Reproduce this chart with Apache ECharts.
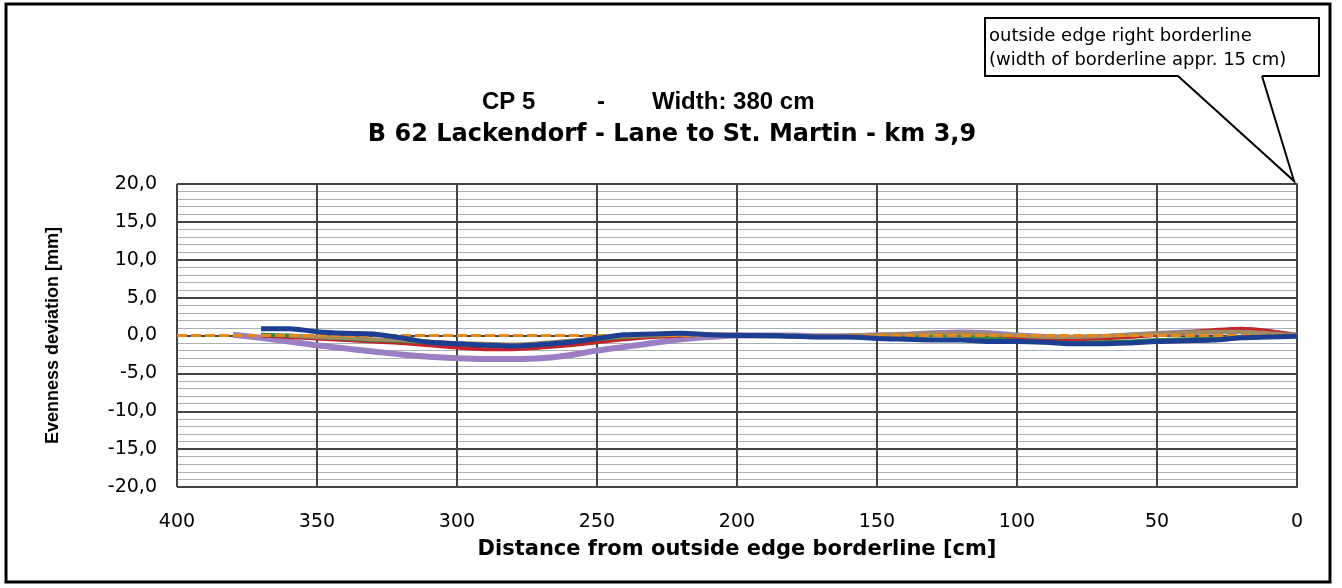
<!DOCTYPE html>
<html>
<head>
<meta charset="utf-8">
<script src="https://cdn.jsdelivr.net/npm/echarts@6/dist/echarts.min.js"></script>
<style>
  html, body { margin: 0; padding: 0; background: #fff; }
  #main { width: 1342px; height: 588px; }
</style>
</head>
<body>
<div id="main"></div>
<script>
// distance from outside edge borderline [cm], one sample every 10 cm
var distances = [380, 370, 360, 350, 340, 330, 320, 310, 300, 290, 280, 270, 260,
    250, 240, 230, 220, 210, 200, 190, 180, 170, 160, 150, 140, 130, 120, 110,
    100, 90, 80, 70, 60, 50, 40, 30, 20, 10, 0];

// evenness deviation [mm]
var purpleValues = [0.1, -0.3, -0.8, -1.3, -1.7, -2.1, -2.5, -2.8, -3.0, -3.1, -3.1, -3.0, -2.6,
    -2.0, -1.5, -1.0, -0.5, -0.2, 0.0, 0.0, 0.0, -0.1, -0.1, 0.0, 0.1, 0.3, 0.4, 0.3,
    0.0, -0.2, -0.3, -0.2, 0.0, 0.2, 0.4, 0.5, 0.6, 0.4, 0.0];
var redValues = [null, 0.0, -0.2, -0.4, -0.6, -0.8, -1.0, -1.3, -1.6, -1.8, -1.8, -1.6, -1.3,
    -0.9, -0.5, -0.2, 0.0, 0.1, 0.1, 0.0, -0.1, -0.1, -0.1, 0.0, 0.1, 0.2, 0.2, 0.0,
    -0.3, -0.5, -0.5, -0.4, -0.2, 0.1, 0.4, 0.7, 0.9, 0.6, 0.0];
var greenValues = [null, 0.1, 0.0, -0.2, -0.4, -0.6, -0.7, -0.9, -1.1, -1.2, -1.3, -1.1, -0.8,
    -0.5, -0.2, 0.0, 0.1, 0.1, 0.0, -0.1, -0.1, -0.2, -0.2, -0.2, -0.1, 0.0, 0.0, -0.3,
    -0.7, -0.9, -1.0, -0.9, -0.8, -0.6, -0.5, -0.4, -0.2, 0.0, 0.0];
var oliveValues = [null, null, 0.0, -0.2, -0.3, -0.5, -0.6, -0.8, -1.0, -1.1, -1.2, -1.0, -0.7,
    -0.4, -0.1, 0.0, 0.1, 0.1, 0.1, 0.0, 0.0, -0.1, 0.0, 0.1, 0.2, 0.3, 0.3, 0.2,
    0.0, -0.2, -0.2, -0.1, 0.1, 0.3, 0.4, 0.5, 0.5, 0.3, 0.0];
var blueValues = [null, 0.9, 0.9, 0.5, 0.3, 0.2, -0.3, -0.9, -1.1, -1.3, -1.4, -1.2, -0.9,
    -0.4, 0.1, 0.2, 0.3, 0.1, 0.0, 0.0, -0.1, -0.2, -0.2, -0.4, -0.5, -0.6, -0.6, -0.8,
    -0.8, -0.9, -1.1, -1.1, -1.0, -0.8, -0.7, -0.6, -0.3, -0.2, -0.1];
// reference line
var refDistances = [400, 0];
var refValues = [0, 0];

var WIDE = 'DejaVu Sans';
var ARIAL = 'Liberation Sans';

function toPairs(xs, ys) {
    var out = [];
    for (var i = 0; i < xs.length; i++) {
        if (ys[i] === null) continue;
        out.push([xs[i], ys[i]]);
    }
    return out;
}

function profile(name, color, width, values, z) {
    return {
        name: name,
        type: 'line',
        data: toPairs(distances, values),
        showSymbol: false,
        smooth: 0.3,
        z: z,
        lineStyle: { color: color, width: width },
        silent: true
    };
}

function titleText(str, x, y, family, size, align) {
    return {
        type: 'text', z: 100, x: x, y: y,
        style: {
            text: str, fontFamily: family, fontWeight: 'bold', fontSize: size,
            fill: '#000', textAlign: align
        }
    };
}

var chartDom = document.getElementById('main');
var myChart = echarts.init(chartDom);
var option;

option = {
    animation: false,
    backgroundColor: '#fff',
    grid: { left: 177, right: 45, top: 184, bottom: 101 },
    xAxis: {
        type: 'value',
        inverse: true,
        min: 0,
        max: 400,
        interval: 50,
        name: 'Distance from outside edge borderline [cm]',
        nameLocation: 'middle',
        nameGap: 52,
        nameTextStyle: { fontFamily: WIDE, fontWeight: 'bold', fontSize: 21, color: '#000' },
        axisLine: { show: true, lineStyle: { color: '#444', width: 2 } },
        axisTick: { show: true, length: 5, lineStyle: { color: '#444', width: 2 } },
        axisLabel: { fontFamily: WIDE, fontSize: 19, color: '#000', margin: 26 },
        splitLine: { show: true, lineStyle: { color: '#444', width: 2 } }
    },
    yAxis: {
        type: 'value',
        min: -20,
        max: 20,
        interval: 5,
        name: 'Evenness deviation [mm]',
        nameLocation: 'middle',
        nameGap: 115,
        nameTextStyle: { fontFamily: ARIAL, fontWeight: 'bold', fontSize: 18, color: '#000' },
        axisLine: { show: true, lineStyle: { color: '#444', width: 2 } },
        axisTick: { show: true, length: 5, lineStyle: { color: '#444', width: 2 } },
        axisLabel: {
            fontFamily: WIDE, fontSize: 19, color: '#000', margin: 20,
            formatter: function (v) { return v.toFixed(1).replace('.', ','); }
        },
        splitLine: { show: true, lineStyle: { color: '#444', width: 2 } },
        minorTick: { show: false, splitNumber: 5 },
        minorSplitLine: { show: true, lineStyle: { color: '#aab0b4', width: 1 } }
    },
    series: [
        profile('purple', '#9a80c2', 6, purpleValues, 2),
        profile('red', '#c4232b', 4, redValues, 3),
        profile('green', '#2f8a3e', 4, greenValues, 4),
        profile('olive', '#a08a62', 4, oliveValues, 5),
        {
            name: 'reference',
            type: 'line',
            data: toPairs(refDistances, refValues),
            showSymbol: false,
            z: 6,
            silent: true,
            lineStyle: { color: '#e88a1a', width: 3, type: [10, 4] }
        },
        profile('blue', '#1d3f91', 5, blueValues, 7)
    ],
    graphic: [
        // outer frame
        {
            type: 'rect', z: 100, silent: true,
            shape: { x: 6, y: 4, width: 1324, height: 578 },
            style: { fill: 'none', stroke: '#000', lineWidth: 3 }
        },
        // titles
        titleText('CP 5', 482, 90, ARIAL, 24, 'left'),
        titleText('-', 601, 90, ARIAL, 24, 'center'),
        titleText('Width: 380 cm', 652, 90, ARIAL, 24, 'left'),
        titleText('B 62 Lackendorf - Lane to St. Martin - km 3,9', 672, 123, WIDE, 24, 'center'),
        // callout box
        {
            type: 'rect', z: 101,
            shape: { x: 985, y: 18, width: 334, height: 58 },
            style: { fill: '#fff', stroke: '#000', lineWidth: 2 }
        },
        {
            type: 'polygon', z: 102,
            shape: { points: [[1178, 75], [1262, 75], [1294, 181]] },
            style: { fill: '#fff', stroke: 'none' }
        },
        {
            type: 'polyline', z: 103,
            shape: { points: [[1178, 76], [1294, 181], [1262, 76]] },
            style: { stroke: '#000', lineWidth: 2, fill: 'none' }
        },
        {
            type: 'text', z: 104, x: 989, y: 24,
            style: {
                text: 'outside edge right borderline\n(width of borderline appr. 15 cm)',
                fontFamily: WIDE, fontSize: 18, lineHeight: 24, fill: '#000'
            }
        }
    ]
};

option && myChart.setOption(option);
</script>
</body>
</html>
